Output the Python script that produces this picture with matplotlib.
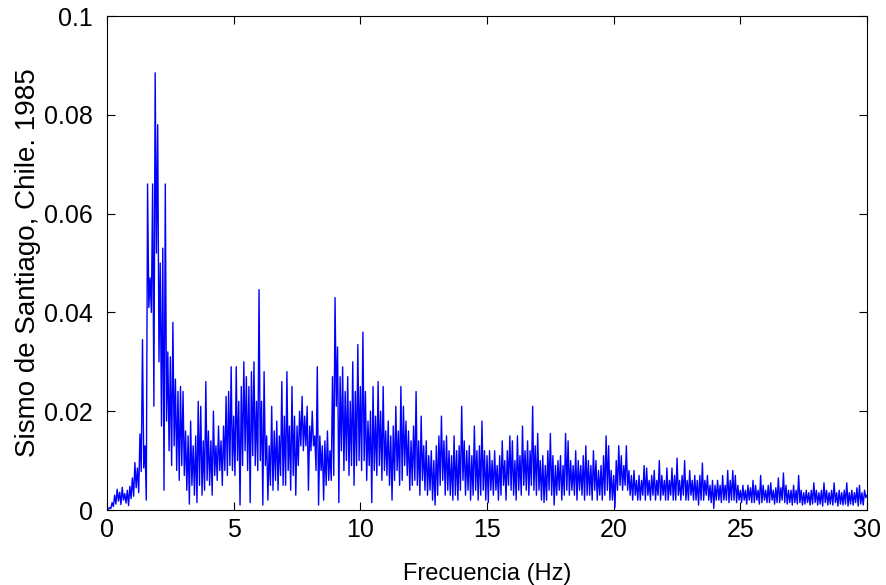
import numpy as np
import matplotlib
matplotlib.use("Agg")
import matplotlib.pyplot as plt

# Espectro de amplitud (en milesimas), pares alto/bajo cada 0.1 Hz, una fila por Hz
amp_0_10 = [
    0.2, 0.1, 0.5, 0.3, 1.5, 0.7, 3.0, 1.2, 4.2, 1.8, 3.6, 1.1, 4.6, 2.0, 3.3, 1.4, 4.0, 0.9, 4.8, 2.3,
    6.5, 2.8, 9.6, 4.5, 8.5, 3.5, 15.4, 7.8, 34.5, 8.5, 13.0, 2.0, 66.0, 41.0, 47.0, 40.0, 66.0, 21.0, 88.5, 52.0,
    78.0, 30.0, 50.0, 17.0, 53.0, 4.0, 66.0, 18.0, 32.0, 12.0, 31.0, 9.0, 38.0, 13.0, 26.5, 8.0, 24.0, 6.0, 25.0, 9.0,
    24.0, 7.0, 16.0, 4.0, 15.0, 1.2, 18.0, 5.0, 13.0, 3.0, 15.0, 1.5, 22.0, 5.0, 21.0, 3.0, 14.0, 4.0, 26.0, 6.0,
    16.0, 5.0, 14.0, 3.0, 20.0, 7.0, 13.0, 6.0, 17.0, 8.0, 14.0, 5.0, 17.0, 8.0, 23.0, 7.0, 24.0, 9.0, 29.0, 8.0,
    19.0, 7.0, 29.0, 10.0, 22.0, 1.0, 25.0, 9.0, 30.0, 12.0, 27.0, 8.0, 25.0, 1.5, 28.0, 11.0, 30.0, 9.0, 22.0, 8.0,
    44.6, 10.0, 22.0, 1.0, 28.0, 9.0, 15.0, 2.0, 13.0, 5.0, 21.0, 4.0, 16.0, 6.0, 18.0, 4.0, 15.0, 7.0, 26.0, 5.0,
    19.0, 5.0, 28.0, 8.0, 17.0, 4.0, 25.0, 7.0, 19.0, 3.0, 17.0, 9.0, 20.0, 13.0, 23.0, 12.0, 19.0, 13.0, 21.0, 4.0,
    17.0, 12.0, 20.0, 13.0, 15.0, 8.0, 29.0, 1.0, 15.0, 8.0, 13.0, 2.0, 14.0, 5.0, 16.0, 6.0, 12.0, 6.0, 27.0, 7.0,
    43.0, 21.0, 33.0, 1.5, 27.0, 12.0, 29.0, 8.0, 24.0, 10.0, 27.0, 7.0, 22.0, 9.0, 30.0, 5.0, 24.0, 9.0, 33.5, 10.0,
]
amp_10_20 = [
    25.0, 8.0, 36.0, 10.0, 24.0, 6.0, 18.0, 9.0, 20.0, 1.5, 25.0, 8.0, 19.0, 7.0, 26.0, 9.0, 20.0, 6.0, 25.0, 8.0,
    16.0, 7.0, 18.0, 5.0, 15.0, 2.0, 17.0, 6.0, 21.0, 8.0, 16.0, 5.0, 25.0, 6.0, 21.0, 9.0, 18.0, 7.0, 16.0, 4.0,
    14.0, 5.0, 17.0, 6.0, 24.0, 5.0, 14.0, 3.0, 19.0, 6.0, 13.0, 4.0, 14.0, 3.0, 11.0, 4.0, 12.0, 2.0, 10.0, 1.0,
    13.0, 3.0, 15.0, 5.0, 19.0, 6.0, 14.0, 3.0, 15.0, 4.0, 12.0, 3.0, 11.0, 2.0, 15.0, 3.0, 12.0, 2.0, 13.0, 4.0,
    21.0, 6.0, 14.0, 3.0, 12.0, 4.0, 13.0, 2.0, 11.0, 3.0, 17.0, 4.0, 12.0, 2.0, 13.0, 3.0, 18.0, 4.0, 12.0, 2.0,
    11.0, 1.5, 12.0, 4.0, 10.0, 3.0, 12.0, 4.0, 9.0, 2.0, 11.0, 3.0, 14.0, 5.0, 10.0, 2.0, 12.0, 5.0, 15.0, 4.0,
    14.0, 3.0, 10.0, 2.0, 15.0, 4.0, 11.0, 3.0, 17.0, 5.0, 12.0, 4.0, 14.0, 3.0, 12.0, 5.0, 21.0, 4.0, 13.0, 3.0,
    15.5, 4.0, 10.0, 2.0, 11.0, 1.5, 9.0, 2.0, 12.0, 4.0, 15.5, 3.0, 11.0, 1.0, 9.0, 3.0, 10.0, 4.0, 11.0, 2.0,
    9.0, 3.0, 15.5, 4.0, 14.0, 3.0, 10.0, 4.0, 9.0, 3.0, 12.0, 2.0, 10.0, 4.0, 9.0, 3.0, 11.0, 2.0, 13.0, 3.0,
    10.0, 3.0, 9.0, 2.0, 12.0, 4.0, 10.0, 2.0, 8.0, 3.0, 9.0, 2.0, 11.0, 3.0, 15.0, 4.0, 13.0, 2.0, 8.0, 2.0,
]
amp_20_30 = [
    7.0, 0.5, 10.0, 4.0, 13.0, 5.0, 11.0, 4.0, 9.0, 5.0, 13.0, 4.0, 8.0, 3.0, 7.0, 2.0, 8.0, 3.0, 6.0, 2.0,
    7.0, 2.0, 6.0, 3.0, 9.0, 2.0, 8.5, 3.0, 6.0, 2.0, 7.0, 3.0, 8.0, 2.0, 6.0, 3.0, 10.0, 2.0, 7.0, 3.0,
    6.0, 2.0, 8.5, 2.0, 6.0, 3.0, 8.5, 2.0, 7.0, 2.0, 10.5, 3.0, 6.0, 2.0, 7.0, 3.0, 10.0, 2.0, 6.0, 2.0,
    8.0, 3.0, 6.0, 2.0, 7.0, 2.0, 6.0, 1.0, 7.0, 2.0, 9.5, 2.0, 6.0, 3.0, 7.0, 2.0, 5.0, 1.5, 6.0, 0.3,
    5.0, 2.0, 6.0, 2.0, 5.0, 1.5, 7.0, 2.0, 5.0, 2.0, 8.0, 1.5, 6.0, 2.0, 8.0, 2.0, 7.0, 1.5, 5.0, 2.0,
    4.0, 1.5, 5.0, 2.0, 4.0, 1.2, 5.0, 2.0, 4.5, 1.5, 6.0, 1.5, 5.0, 2.0, 4.0, 1.2, 7.0, 1.5, 5.0, 2.0,
    4.0, 1.5, 5.0, 1.5, 5.5, 2.0, 4.0, 1.2, 4.5, 1.5, 6.5, 1.5, 4.5, 2.0, 7.5, 1.5, 5.0, 1.2, 4.0, 1.5,
    4.0, 1.0, 5.0, 1.5, 4.0, 1.2, 7.0, 1.5, 4.0, 1.0, 3.5, 1.2, 4.0, 1.5, 3.5, 1.0, 4.0, 1.2, 5.5, 1.5,
    4.0, 1.0, 3.5, 1.2, 4.0, 0.8, 5.5, 1.5, 4.0, 1.0, 3.5, 1.2, 4.0, 1.0, 5.5, 1.5, 3.5, 0.8, 4.0, 1.2,
    3.5, 1.0, 4.0, 1.2, 5.5, 0.8, 3.5, 1.2, 4.0, 1.0, 3.5, 1.5, 4.5, 0.8, 5.0, 1.2, 3.5, 1.0, 4.0, 2.5,
    3.0,
]

amp = np.array(amp_0_10 + amp_10_20 + amp_20_30) / 1000.0
freq = np.linspace(0, 30, len(amp))

xticks = [0, 5, 10, 15, 20, 25, 30]
yticks = [0, 0.02, 0.04, 0.06, 0.08, 0.1]
ytick_labels = ["0", "0.02", "0.04", "0.06", "0.08", "0.1"]

plt.rcParams['font.family'] = ['Liberation Sans', 'DejaVu Sans']

fig = plt.figure(figsize=(8.86, 5.85), dpi=100)
ax = fig.add_axes([0.1208, 0.1282, 0.8578, 0.8444])
ax.plot(freq, amp, color=(0, 0, 1), lw=1.0)

ax.set_xlim(0, 30)
ax.set_ylim(0, 0.1)
ax.set_xticks(xticks)
ax.set_xticklabels([str(t) for t in xticks])
ax.set_yticks(yticks)
ax.set_yticklabels(ytick_labels)
ax.tick_params(direction='in', top=True, right=True, length=6, width=0.8,
               labelsize=18)
ax.tick_params(axis='x', pad=6)
ax.tick_params(axis='y', pad=10)
for s in ax.spines.values():
    s.set_linewidth(0.8)

ax.set_xlabel("Frecuencia (Hz)", fontsize=17, labelpad=15)
ax.set_ylabel("Sismo de Santiago, Chile. 1985", fontsize=20, labelpad=2)

fig.savefig("out.png", dpi=100)
